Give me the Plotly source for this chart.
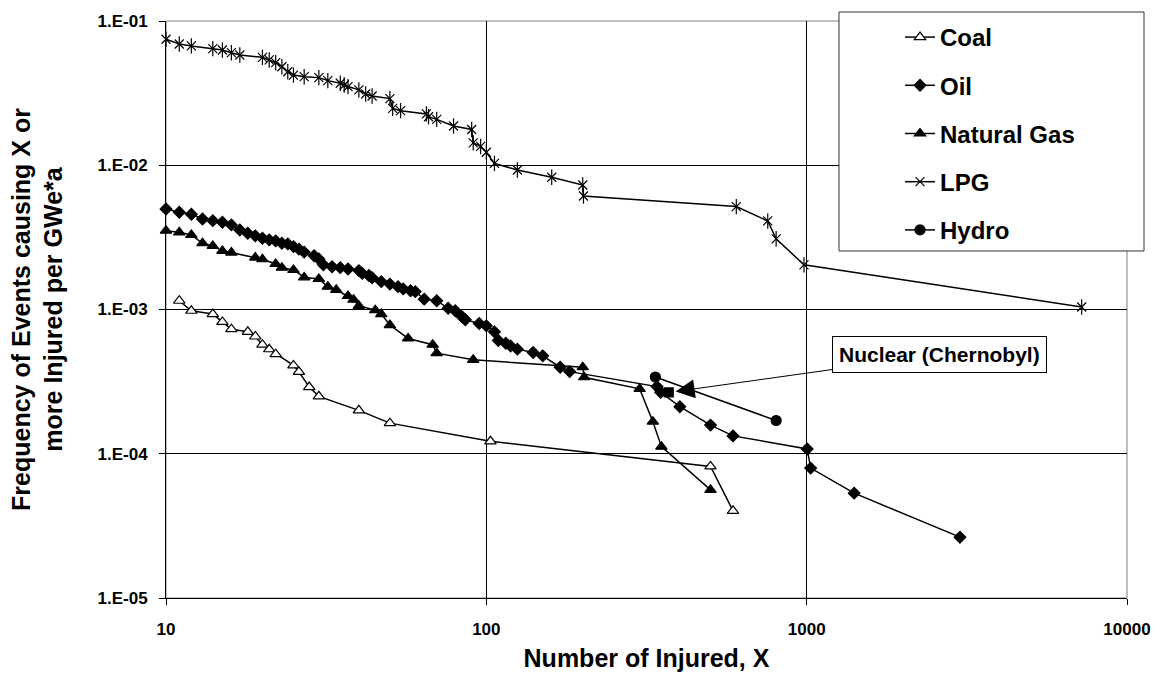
import numpy as np
import plotly.graph_objects as go

# ---- data: number of injured (X) vs. frequency of events with >= X injured per GWe*a ----
coal_x = [11, 12, 14, 15, 16, 18, 19, 20, 21, 22, 25, 26, 28, 30, 40, 50, 103, 501, 589]
coal_y = [1.15e-3, 9.8e-4, 9.3e-4, 8.2e-4, 7.3e-4, 7.0e-4, 6.5e-4, 5.7e-4, 5.3e-4, 4.9e-4,
          4.1e-4, 3.7e-4, 2.9e-4, 2.5e-4, 2.0e-4, 1.63e-4, 1.22e-4, 8.17e-5, 4.02e-5]

oil_x = [10, 11, 12, 13, 14, 15, 16, 17, 18, 19, 20, 21, 22, 23, 24, 25, 26, 27, 29, 30,
         31, 33, 35, 37, 40, 41, 43, 44, 47, 50, 53, 55, 58, 60, 64, 70, 76, 80, 84, 86,
         95, 100, 106, 109, 115, 119, 125, 140, 150, 170, 182, 341, 350, 402, 501, 589,
         1004, 1029, 1407, 3010]
oil_y = [4.97e-3, 4.72e-3, 4.57e-3, 4.24e-3, 4.13e-3, 4.03e-3, 3.86e-3, 3.56e-3, 3.38e-3,
         3.24e-3, 3.12e-3, 3.04e-3, 2.99e-3, 2.88e-3, 2.85e-3, 2.73e-3, 2.62e-3, 2.50e-3,
         2.36e-3, 2.24e-3, 2.04e-3, 1.98e-3, 1.95e-3, 1.91e-3, 1.86e-3, 1.78e-3, 1.72e-3,
         1.66e-3, 1.56e-3, 1.50e-3, 1.44e-3, 1.39e-3, 1.35e-3, 1.33e-3, 1.18e-3, 1.15e-3,
         1.02e-3, 9.8e-4, 8.9e-4, 8.5e-4, 8.0e-4, 7.7e-4, 7.0e-4, 6.1e-4, 5.83e-4, 5.59e-4,
         5.31e-4, 5.03e-4, 4.77e-4, 3.98e-4, 3.71e-4, 2.92e-4, 2.67e-4, 2.12e-4, 1.58e-4,
         1.33e-4, 1.08e-4, 7.95e-5, 5.33e-5, 2.64e-5]

gas_x = [10, 11, 12, 13, 14, 15, 16, 19, 20, 22, 23, 25, 27, 30, 32, 34, 37, 38.5, 40, 45,
         47, 50, 57, 68, 70, 91, 200, 202, 301, 331, 352, 501]
gas_y = [3.52e-3, 3.43e-3, 3.29e-3, 2.88e-3, 2.76e-3, 2.55e-3, 2.48e-3, 2.29e-3, 2.23e-3,
         2.07e-3, 1.95e-3, 1.88e-3, 1.67e-3, 1.63e-3, 1.44e-3, 1.37e-3, 1.24e-3, 1.17e-3,
         1.06e-3, 9.9e-4, 9.3e-4, 7.8e-4, 6.3e-4, 5.7e-4, 4.98e-4, 4.48e-4, 3.98e-4,
         3.39e-4, 2.82e-4, 1.67e-4, 1.12e-4, 5.62e-5]

lpg_x = [10, 11, 12, 14, 15, 16, 17, 20, 21, 22, 23, 24, 25, 27, 30, 32, 35, 36, 37, 40,
         42, 44, 50, 51, 54, 65, 66, 70, 79, 90, 91, 96, 100, 106, 125, 160, 200, 201,
         603, 756, 803, 981, 7220]
lpg_y = [7.47e-2, 6.93e-2, 6.72e-2, 6.43e-2, 6.29e-2, 6.03e-2, 5.81e-2, 5.60e-2, 5.37e-2,
         5.14e-2, 4.82e-2, 4.45e-2, 4.22e-2, 4.11e-2, 4.05e-2, 3.86e-2, 3.70e-2, 3.60e-2,
         3.51e-2, 3.33e-2, 3.12e-2, 3.02e-2, 2.90e-2, 2.48e-2, 2.39e-2, 2.27e-2, 2.17e-2,
         2.08e-2, 1.87e-2, 1.77e-2, 1.43e-2, 1.35e-2, 1.23e-2, 1.03e-2, 9.27e-3, 8.26e-3,
         7.30e-3, 6.12e-3, 5.17e-3, 4.11e-3, 3.09e-3, 2.04e-3, 1.04e-3]

hydro_x = [337, 803]
hydro_y = [3.40e-4, 1.70e-4]

nuclear_x = [371]
nuclear_y = [2.66e-4]
nuclear_label = "Nuclear (Chernobyl)"

x_ticks = [10, 100, 1000, 10000]
x_ticktext = ["10", "100", "1000", "10000"]
y_ticks = [1e-5, 1e-4, 1e-3, 1e-2, 1e-1]
y_ticktext = ["1.E-05", "1.E-04", "1.E-03", "1.E-02", "1.E-01"]

FONT = "Liberation Sans, Arial, sans-serif"
LINE = dict(color="black", width=1.5)

fig = go.Figure()


def series(name, xs, ys, symbol, size, group, show=True, mode="lines+markers", line=LINE):
    fig.add_trace(go.Scatter(
        x=xs, y=ys, name=name, mode=mode, line=line,
        marker=dict(symbol=symbol, size=size, color="black",
                    line=dict(color="black", width=1.2)),
        legendgroup=group, showlegend=show, cliponaxis=False,
    ))


series("Coal", coal_x, coal_y, "triangle-up", 10, "coal")
fig.data[-1].marker.color = "white"
series("Oil", oil_x, oil_y, "diamond", 9, "oil")
series("Natural Gas", gas_x, gas_y, "triangle-up", 10, "gas")
series("LPG", lpg_x, lpg_y, "x-thin-open", 9, "lpg")
series("LPG", lpg_x, lpg_y, "line-ns-open", 11, "lpg", show=False, mode="markers")
series("Hydro", hydro_x, hydro_y, "circle", 10, "hydro")
series("Nuclear", nuclear_x, nuclear_y, "square", 9, "nuc", show=False, mode="markers")

# plot-area frame (grey) and legend box
fig.add_shape(type="rect", xref="paper", yref="paper", x0=0, x1=1, y0=0, y1=1,
              line=dict(color="#808080", width=1), layer="below")
fig.add_shape(type="rect", xref="paper", yref="paper",
              x0=0.7003, x1=1.0177, y0=0.6014, y1=1.0156,
              line=dict(color="#333333", width=1), fillcolor="white", layer="above")

fig.add_annotation(
    x=np.log10(nuclear_x[0]), y=np.log10(nuclear_y[0]), xref="x", yref="y",
    text=nuclear_label, showarrow=True, arrowhead=2, arrowsize=3.8, arrowwidth=1,
    arrowcolor="black", standoff=7, ax=271, ay=-38,
    font=dict(family=FONT, size=21, color="black", weight="bold"),
    bordercolor="black", borderwidth=1, borderpad=6, bgcolor="white",
)

axis_common = dict(
    type="log", showgrid=True, gridcolor="black", gridwidth=1,
    showline=True, linecolor="black", linewidth=1, mirror=False,
    ticks="outside", ticklen=6, tickcolor="black", zeroline=False,
    automargin=False,
    tickfont=dict(family=FONT, size=17, color="black", weight="bold"),
)

fig.update_xaxes(
    **axis_common, range=[1, 4], tickvals=x_ticks, ticktext=x_ticktext,
    ticklabelstandoff=10,
    title=dict(text="Number of Injured, X", standoff=11,
               font=dict(family=FONT, size=25, color="black", weight="bold")),
)
fig.update_yaxes(
    **axis_common, range=[-5, -1], tickvals=y_ticks, ticktext=y_ticktext,
    ticklabelstandoff=8,
    title=dict(text="Frequency of Events causing X or<br>more Injured per GWe*a", standoff=27,
               font=dict(family=FONT, size=25, color="black", weight="bold")),
)

fig.update_layout(
    width=1164, height=674,
    margin=dict(l=166, r=37, t=21, b=76),
    paper_bgcolor="white", plot_bgcolor="white",
    font=dict(family=FONT, color="black"),
    legend=dict(
        x=0.7638, xanchor="left", y=1.0104, yanchor="top",
        bgcolor="rgba(0,0,0,0)", borderwidth=0,
        traceorder="grouped", tracegroupgap=14,
        font=dict(family=FONT, size=24, color="black", weight="bold"),
    ),
)

fig.write_html("out.html")
